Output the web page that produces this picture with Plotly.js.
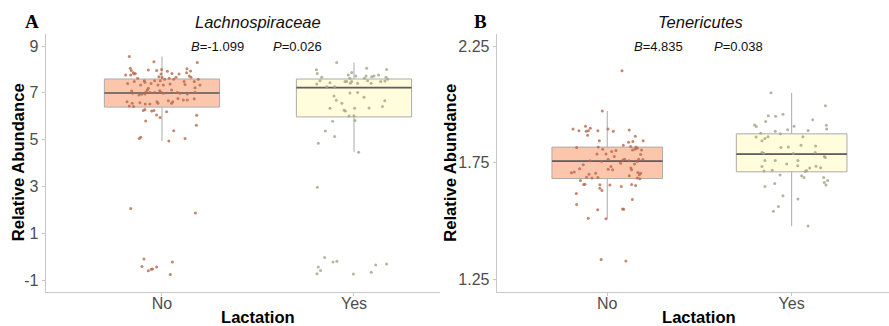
<!DOCTYPE html>
<html>
<head>
<meta charset="utf-8">
<script src="https://cdn.plot.ly/plotly-3.0.1.min.js"></script>
<style>html,body{margin:0;padding:0;background:#fff;}#chart{width:889px;height:326px;}</style>
</head>
<body>
<div id="chart"></div>
<script>
// ---------- data ----------
const categories = ['No', 'Yes'];
const panelTitles = ['Lachnospiraceae', 'Tenericutes'];
const panelLetters = ['A', 'B'];
const xTitle = 'Lactation';
const yTitle = 'Relative Abundance';
const bCoef = ['-1.099', '4.835'];
const pValue = ['0.026', '0.038'];
const lachTicks = [-1, 1, 3, 5, 7, 9];
const teneTicks = [1.25, 1.75, 2.25];

// box statistics (No, Yes)
const lachQ1 = [6.39, 5.97];
const lachMedian = [6.99, 7.22];
const lachQ3 = [7.59, 7.59];
const lachLowWhisker = [4.94, 4.46];
const lachHighWhisker = [8.55, 8.30];

const teneQ1 = [1.681, 1.710];
const teneMedian = [1.756, 1.786];
const teneQ3 = [1.816, 1.873];
const teneLowWhisker = [1.509, 1.477];
const teneHighWhisker = [1.971, 2.049];

// jittered individual samples
const lachNoJitter = [-0.170,-0.042,0.184,-0.165,-0.160,-0.149,-0.189,-0.163,-0.146,-0.139,-0.071,-0.028,-0.002,0.028,0.052,0.089,0.130,0.149,0.128,0.142,0.151,-0.005,-0.016,0.000,0.014,-0.127,-0.092,-0.144,-0.179,-0.111,-0.089,-0.038,-0.009,0.038,0.073,0.061,0.115,0.120,0.168,0.189,0.198,0.172,-0.057,-0.021,0.007,0.042,-0.071,-0.076,-0.083,-0.063,-0.158,-0.153,-0.120,-0.106,-0.089,-0.038,-0.012,-0.005,0.007,0.050,0.080,0.094,0.132,0.172,0.168,0.111,0.132,0.083,0.056,0.050,0.033,-0.026,-0.021,-0.063,-0.087,-0.115,-0.155,-0.182,-0.170,-0.148,-0.089,-0.054,-0.042,-0.097,0.024,-0.028,-0.010,-0.085,0.181,0.179,0.061,-0.118,-0.111,0.036,0.120,-0.163,0.174,-0.094,-0.104,-0.071,-0.056,-0.049,-0.028,0.054,0.043];
const lachNoValues = [8.55,8.33,8.30,8.05,7.95,7.86,7.76,7.76,7.80,7.83,7.97,7.95,8.00,7.92,7.83,7.80,8.03,7.93,7.86,7.72,7.66,7.80,7.69,7.65,7.58,7.62,7.51,7.48,7.40,7.33,7.45,7.51,7.52,7.62,7.66,7.58,7.48,7.35,7.48,7.58,7.33,7.22,7.40,7.33,7.33,7.38,7.19,7.12,7.05,7.01,7.08,6.98,6.91,6.94,6.95,7.01,7.09,7.02,6.98,7.12,7.01,6.98,6.95,7.02,6.75,6.69,6.69,6.76,6.62,6.55,6.66,6.62,6.55,6.52,6.52,6.58,6.55,6.62,6.44,6.41,6.29,6.22,6.24,6.24,6.19,6.05,5.94,5.79,6.04,5.61,5.38,5.05,5.10,4.94,5.05,2.06,1.86,-0.10,-0.42,-0.60,-0.54,-0.53,-0.44,-0.23,-0.77];
const lachYesJitter = [-0.090,-0.196,-0.191,-0.168,-0.177,-0.194,-0.125,-0.101,-0.142,-0.012,-0.030,0.009,-0.021,-0.038,-0.047,-0.012,0.019,-0.019,0.066,0.128,0.170,0.167,0.175,0.139,0.161,0.063,0.054,0.092,0.104,0.071,0.089,-0.021,0.019,-0.104,-0.092,-0.063,0.052,0.160,-0.125,-0.052,-0.045,0.003,0.078,0.148,-0.026,0.000,0.005,-0.111,-0.149,-0.101,-0.186,0.024,-0.191,-0.153,-0.186,-0.174,-0.193,-0.109,-0.089,-0.003,0.090,0.113,0.170];
const lachYesValues = [8.30,7.98,7.83,7.66,7.52,7.38,7.43,7.26,7.26,7.87,7.76,7.72,7.62,7.48,7.48,7.48,7.41,7.41,8.05,7.76,8.00,7.66,7.58,7.48,7.50,7.72,7.62,7.69,7.72,7.52,7.41,6.99,7.01,6.86,6.68,6.55,6.81,6.66,6.34,6.25,6.22,6.34,6.35,6.41,6.01,6.02,5.82,5.78,5.37,5.13,4.84,4.46,2.96,-0.04,-0.44,-0.59,-0.73,-0.23,-0.20,-0.74,-0.67,-0.36,-0.32];

const teneNoJitter = [0.080,-0.027,0.004,0.033,-0.186,-0.154,-0.118,-0.092,-0.114,-0.103,-0.107,-0.051,0.119,-0.043,0.152,0.116,0.139,0.195,-0.166,-0.049,-0.025,0.024,0.047,0.087,0.127,0.156,0.150,0.163,0.137,0.186,0.038,-0.007,-0.056,0.181,0.094,0.118,0.170,0.193,0.163,0.148,-0.130,-0.150,-0.179,-0.195,-0.094,-0.031,0.005,0.020,0.005,0.029,0.072,0.085,0.128,0.132,0.166,0.174,0.181,-0.099,-0.112,-0.063,-0.083,-0.051,0.119,-0.146,-0.128,-0.121,-0.040,-0.040,-0.029,0.014,0.076,0.132,0.154,0.177,0.163,-0.168,-0.166,-0.052,0.083,0.089,0.136,-0.103,-0.007,-0.033,0.101];
const teneNoValues = [2.144,1.971,1.894,1.884,1.894,1.886,1.906,1.897,1.884,1.886,1.867,1.886,1.890,1.843,1.863,1.837,1.840,1.843,1.814,1.816,1.807,1.797,1.801,1.824,1.819,1.816,1.807,1.811,1.804,1.804,1.776,1.786,1.786,1.784,1.764,1.757,1.764,1.763,1.754,1.744,1.740,1.723,1.709,1.706,1.757,1.754,1.764,1.733,1.721,1.719,1.747,1.761,1.726,1.719,1.707,1.697,1.704,1.700,1.687,1.704,1.684,1.686,1.693,1.673,1.656,1.657,1.654,1.640,1.630,1.653,1.647,1.656,1.651,1.680,1.683,1.617,1.570,1.547,1.550,1.549,1.591,1.511,1.509,1.334,1.327];
const teneYesJitter = [-0.112,0.183,-0.127,-0.087,-0.047,-0.141,0.114,-0.201,-0.192,0.188,0.190,0.013,-0.022,0.089,-0.089,-0.168,-0.061,-0.128,-0.145,-0.193,-0.161,0.061,-0.058,-0.018,0.051,0.130,-0.161,-0.152,0.009,0.128,0.177,0.183,-0.145,-0.089,-0.027,0.034,-0.161,0.033,-0.150,-0.105,0.098,0.132,0.157,0.081,0.074,-0.063,0.054,0.067,0.174,0.195,0.177,0.186,-0.145,-0.092,-0.047,0.034,-0.072,-0.099,0.089];
const teneYesValues = [2.049,1.994,1.951,1.949,1.957,1.926,1.933,1.911,1.904,1.910,1.894,1.906,1.891,1.887,1.884,1.876,1.873,1.861,1.853,1.859,1.843,1.861,1.814,1.817,1.824,1.821,1.793,1.790,1.789,1.793,1.776,1.771,1.759,1.759,1.744,1.759,1.733,1.736,1.714,1.717,1.726,1.734,1.727,1.716,1.711,1.696,1.693,1.686,1.686,1.673,1.664,1.653,1.647,1.660,1.607,1.593,1.561,1.541,1.477];

// ---------- styles ----------
const FONT = 'Liberation Sans, Arial, sans-serif';
const fillColors = ['#FCC6AD', '#FFFDDC'];
const pointColors = ['#B8684A', '#A3A384'];
const boxLine = '#ABABAB';
const medianColor = '#5E5E5E';
const BOXW = 0.6;

const traces = [];
function addPanel(xa, ya, q1, med, q3, lo, hi, jit, vals) {
  categories.forEach((c, i) => {
    traces.push({
      type: 'box', xaxis: xa, yaxis: ya, name: c,
      x: [i], q1: [q1[i]], median: [med[i]], q3: [q3[i]],
      lowerfence: [lo[i]], upperfence: [hi[i]],
      width: BOXW, whiskerwidth: 0, boxpoints: false,
      fillcolor: fillColors[i], line: {color: boxLine, width: 1},
      hoverinfo: 'skip', showlegend: false
    });
  });
  const mx = [], my = [];
  categories.forEach((c, i) => {
    mx.push(i - BOXW / 2, i + BOXW / 2, null);
    my.push(med[i], med[i], null);
  });
  traces.push({type: 'scatter', mode: 'lines', xaxis: xa, yaxis: ya, x: mx, y: my,
    line: {color: medianColor, width: 1.6}, hoverinfo: 'skip', showlegend: false});
  categories.forEach((c, i) => {
    traces.push({
      type: 'scatter', mode: 'markers', xaxis: xa, yaxis: ya, name: c,
      x: jit[i].map(j => i + j), y: vals[i],
      marker: {color: pointColors[i], size: 3, opacity: 0.8},
      hoverinfo: 'skip', showlegend: false
    });
  });
}
addPanel('x', 'y', lachQ1, lachMedian, lachQ3, lachLowWhisker, lachHighWhisker,
  [lachNoJitter, lachYesJitter], [lachNoValues, lachYesValues]);
addPanel('x2', 'y2', teneQ1, teneMedian, teneQ3, teneLowWhisker, teneHighWhisker,
  [teneNoJitter, teneYesJitter], [teneNoValues, teneYesValues]);

const axisLine = '#C9C9C9';
function xAxis(domain, range, anchor) {
  return {
    domain: domain, range: range, anchor: anchor,
    tickmode: 'array', tickvals: categories.map((c, i) => i), ticktext: categories,
    showline: true, linecolor: axisLine, linewidth: 1.3, ticks: 'outside', ticklen: 3,
    tickcolor: axisLine, tickwidth: 1, showgrid: false, zeroline: false,
    ticklabelstandoff: -7,
    tickfont: {family: FONT, size: 16, color: '#4D4D4D'}
  };
}
function yAxis(range, ticks, anchor) {
  return {
    domain: [0, 1], range: range, anchor: anchor,
    tickmode: 'array', tickvals: ticks, ticktext: ticks.map(String),
    showline: true, linecolor: axisLine, linewidth: 1.3, ticks: 'outside', ticklen: 3,
    tickcolor: axisLine, tickwidth: 1, showgrid: false, zeroline: false,
    tickfont: {family: FONT, size: 16, color: '#4D4D4D'}
  };
}

const annotations = [];
const titleFont = {family: FONT, size: 16.6, color: '#000', weight: 'bold'};
const letterX = [-0.017, 0.516];
const titleX = [0.2515, 0.7766];
const xTitleX = [0.2515, 0.7746];
const yTitleX = [-0.0326, 0.4804];
panelLetters.forEach((t, i) => annotations.push({
  xref: 'paper', yref: 'paper', x: letterX[i], y: 1.048, text: t, showarrow: false,
  xanchor: 'center', yanchor: 'middle',
  font: {family: 'Liberation Serif, Times New Roman, serif', size: 19, color: '#000', weight: 'bold'}
}));
panelTitles.forEach((t, i) => annotations.push({
  xref: 'paper', yref: 'paper', x: titleX[i], y: 1.045, text: t, showarrow: false,
  xanchor: 'center', yanchor: 'middle',
  font: {family: FONT, size: 16.5, color: '#111', style: 'italic'}
}));
[0, 1].forEach(i => {
  annotations.push({xref: 'paper', yref: 'paper', x: xTitleX[i], y: -0.098, text: xTitle,
    showarrow: false, xanchor: 'center', yanchor: 'middle', font: titleFont});
  annotations.push({xref: 'paper', yref: 'paper', x: yTitleX[i], y: 0.5008, text: yTitle,
    textangle: -90, showarrow: false, xanchor: 'center', yanchor: 'middle', font: titleFont});
});
const statPos = [
  {xr: 'x', yr: 'y', bx: 0.289, px: 0.708, y: 8.97},
  {xr: 'x2', yr: 'y2', bx: 0.279, px: 0.714, y: 2.247}
];
statPos.forEach((s, i) => {
  annotations.push({xref: s.xr, yref: s.yr, x: s.bx, y: s.y, text: '<i>B</i>=' + bCoef[i],
    showarrow: false, xanchor: 'center', yanchor: 'middle', font: {family: FONT, size: 13, color: '#111'}});
  annotations.push({xref: s.xr, yref: s.yr, x: s.px, y: s.y, text: '<i>P</i>=' + pValue[i],
    showarrow: false, xanchor: 'center', yanchor: 'middle', font: {family: FONT, size: 13, color: '#111'}});
});

const layout = {
  width: 889, height: 326,
  margin: {l: 46, r: 0, t: 34, b: 34, pad: 0},
  paper_bgcolor: '#fff', plot_bgcolor: '#fff',
  showlegend: false,
  font: {family: FONT},
  xaxis: xAxis([0, 0.4674], [-0.604, 1.448], 'y'),
  yaxis: yAxis([-1.513, 9.513], lachTicks, 'x'),
  xaxis2: xAxis([0.535, 1], [-0.598, 1.528], 'y2'),
  yaxis2: yAxis([1.1942, 2.3015], teneTicks, 'x2'),
  annotations: annotations
};

Plotly.newPlot('chart', traces, layout, {staticPlot: true, displayModeBar: false});
</script>
</body>
</html>
